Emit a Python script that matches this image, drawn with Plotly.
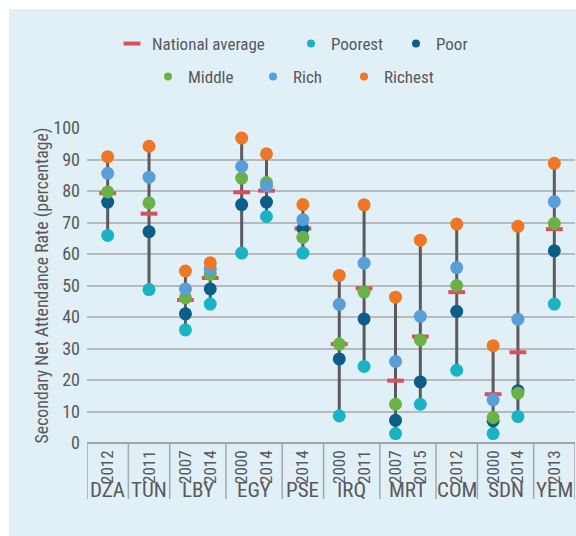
import plotly.graph_objects as go

# Secondary net attendance rate by wealth quintile, per survey
countries = ["DZA", "TUN", "LBY", "LBY", "EGY", "EGY", "PSE", "IRQ", "IRQ",
             "MRT", "MRT", "COM", "SDN", "SDN", "YEM"]
years = ["2012", "2011", "2007", "2014", "2000", "2014", "2014", "2000", "2011",
         "2007", "2015", "2012", "2000", "2014", "2013"]

national = [79.3, 72.8, 45.4, 52.4, 79.6, 80.1, 68.1, 31.4, 49.1, 19.8, 33.8, 47.9, 15.5, 28.8, 67.9]
poorest = [65.9, 48.7, 35.9, 44.1, 60.3, 71.9, 60.3, 8.6, 24.3, 3.0, 12.3, 23.1, 3.0, 8.4, 44.1]
poor = [76.5, 67.1, 41.0, 48.9, 75.7, 76.5, 68.1, 26.7, 39.4, 7.2, 19.4, 41.8, 7.0, 16.6, 61.0]
middle = [79.7, 76.2, 46.1, 53.6, 84.1, 82.7, 65.3, 31.4, 47.9, 12.3, 32.7, 50.0, 8.1, 15.8, 69.7]
rich = [85.6, 84.4, 48.9, 55.2, 87.8, 81.7, 70.9, 44.0, 57.1, 25.9, 40.2, 55.7, 13.7, 39.3, 76.6]
richest = [90.9, 94.2, 54.6, 57.2, 96.8, 91.8, 75.7, 53.2, 75.6, 46.3, 64.4, 69.5, 30.9, 68.8, 88.8]

y_ticks = list(range(0, 101, 10))

# Colours
BG = "#e0f0f6"
GRID = "#b7bbbe"
STEM = "#5b5b5d"
TEXT = "#58595b"
C_NAT = "#d9505d"
C_POOREST = "#1bb3c3"
C_POOR = "#0c5d88"
C_MIDDLE = "#6ab245"
C_RICH = "#5a9ed8"
C_RICHEST = "#ee7624"

FONT = "Roboto Condensed, Roboto, sans-serif"

# Horizontal layout: each country block is one unit wide for a single survey,
# wider for two surveys, with the two surveys placed either side of the centre.
SINGLE_W, DOUBLE_W, DOUBLE_OFF = 1.0, 1.36, 0.30
groups = []
for c in countries:
    if not groups or groups[-1][0] != c:
        groups.append([c, 0])
    groups[-1][1] += 1

xpos, bounds, centers = [], [0.0], []
left = 0.0
for name, n in groups:
    w = SINGLE_W if n == 1 else DOUBLE_W
    mid = left + w / 2
    centers.append((name, mid))
    offs = [0.0] if n == 1 else [-DOUBLE_OFF, DOUBLE_OFF]
    xpos.extend(mid + o for o in offs)
    left += w
    bounds.append(left)
x_max = left

W, H = 576, 536
ML, MR, MT, MB = 87, 1, 128, 93
plot_w, plot_h = W - ML - MR, H - MT - MB


def px_x(p):
    return (p - ML) / plot_w


def px_y(q):
    return (H - MB - q) / plot_h


fig = go.Figure()

# Range stems from the lowest to the highest quintile
stem_x, stem_y = [], []
for i, x in enumerate(xpos):
    vals = [poorest[i], poor[i], middle[i], rich[i], richest[i]]
    stem_x += [x, x, None]
    stem_y += [min(vals), max(vals), None]
fig.add_trace(go.Scatter(x=stem_x, y=stem_y, mode="lines",
                         line=dict(color=STEM, width=3),
                         hoverinfo="skip", showlegend=False, cliponaxis=False))

fig.add_trace(go.Scatter(x=xpos, y=national, mode="markers", name="National average",
                         marker=dict(symbol="line-ew", size=12,
                                     line=dict(color=C_NAT, width=4)),
                         showlegend=False, cliponaxis=False))

series = [("Poorest", poorest, C_POOREST), ("Poor", poor, C_POOR),
          ("Middle", middle, C_MIDDLE), ("Rich", rich, C_RICH),
          ("Richest", richest, C_RICHEST)]
for name, vals, col in series:
    fig.add_trace(go.Scatter(x=xpos, y=vals, mode="markers", name=name,
                             marker=dict(size=13, color=col),
                             showlegend=False, cliponaxis=False))

# Legend entries, one small legend each, laid out in two rows
legend_items = [
    ("National average", C_NAT, "line-ew", 152, 44),
    ("Poorest", C_POOREST, "circle", 331, 44),
    ("Poor", C_POOR, "circle", 436, 44),
    ("Middle", C_MIDDLE, "circle", 188, 77),
    ("Rich", C_RICH, "circle", 293, 77),
    ("Richest", C_RICHEST, "circle", 384, 77),
]
legend_layouts = {}
for k, (name, col, sym, tx, ty) in enumerate(legend_items):
    key = "legend" if k == 0 else f"legend{k + 1}"
    if sym == "line-ew":
        mk = dict(symbol=sym, size=12, line=dict(color=col, width=4))
    else:
        mk = dict(symbol=sym, size=8, color=col)
    fig.add_trace(go.Scatter(x=[None], y=[None], mode="markers", name=name,
                             marker=mk, showlegend=True, legend=key))
    legend_layouts[key] = dict(
        x=px_x(tx - 40), y=px_y(ty), xanchor="left", yanchor="middle",
        orientation="h", bgcolor="rgba(0,0,0,0)", borderwidth=0,
        font=dict(family=FONT, size=17, color=TEXT), itemclick=False,
    )

shapes = []
# Category box below the axis: dividers between countries
for b in bounds:
    shapes.append(dict(type="line", xref="x", yref="paper", x0=b, x1=b,
                       y0=0, y1=px_y(499), line=dict(color="#a3a7aa", width=1.5)))
# White frame strips on top and left
shapes.append(dict(type="rect", xref="paper", yref="paper", layer="below",
                   x0=px_x(0), x1=px_x(9), y0=px_y(H), y1=px_y(0),
                   fillcolor="white", line=dict(width=0)))
shapes.append(dict(type="rect", xref="paper", yref="paper", layer="below",
                   x0=px_x(0), x1=px_x(W), y0=px_y(9), y1=px_y(0),
                   fillcolor="white", line=dict(width=0)))

annotations = [dict(x=cx, y=px_y(490), xref="x", yref="paper", text=name,
                    showarrow=False, xanchor="center", yanchor="middle",
                    font=dict(family=FONT, size=21, color=TEXT))
               for name, cx in centers]

fig.update_layout(
    width=W, height=H,
    margin=dict(l=ML, r=MR, t=MT, b=MB, pad=0),
    paper_bgcolor=BG, plot_bgcolor=BG,
    font=dict(family=FONT, color=TEXT),
    shapes=shapes, annotations=annotations,
    **legend_layouts,
)
fig.update_xaxes(range=[0, x_max], tickvals=xpos, ticktext=years, tickangle=-90,
                 ticks="", showgrid=False, zeroline=False, showline=False,
                 tickfont=dict(family=FONT, size=17, color=TEXT),
                 ticklabelstandoff=3, fixedrange=True)
fig.update_yaxes(range=[0, 100], tickvals=y_ticks, showgrid=True,
                 gridcolor=GRID, gridwidth=1.5, zeroline=True,
                 zerolinecolor="#a3a7aa", zerolinewidth=1.5, ticks="",
                 tickfont=dict(family=FONT, size=18, color=TEXT),
                 ticklabelstandoff=6,
                 title=dict(text="Secondary Net Attendance Rate (percentage)",
                            font=dict(family=FONT, size=17.8, color=TEXT), standoff=0),
                 fixedrange=True)

fig.write_html("out.html", config={"displayModeBar": False})
